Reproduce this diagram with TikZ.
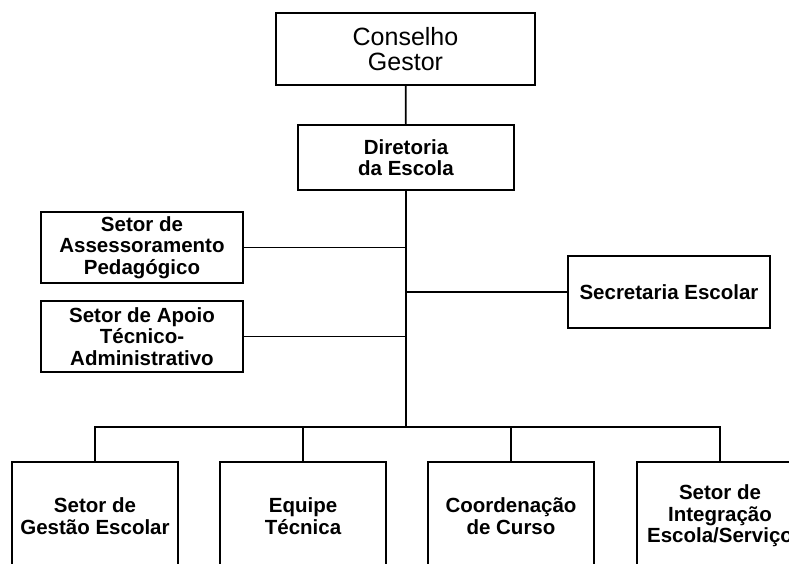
\documentclass[tikz,border=0pt]{standalone}
\usepackage{fontspec}
\setmainfont{Liberation Sans}

\begin{document}
\begin{tikzpicture}[x=1pt,y=-1pt,line cap=round]
  \tikzset{
    unit/.style={draw,line width=1.7pt,align=center,inner sep=0pt,
      font=\fontsize{20.5}{21.5}\selectfont\bfseries},
    head/.style={unit,font=\fontsize{25}{24.5}\selectfont},
    side/.style={unit,minimum width=202pt,minimum height=71pt},
    base/.style={unit,minimum width=166pt,minimum height=108pt},
    link/.style={line width=1.7pt}
  }
  \useasboundingbox (0,0) rectangle (789,564);
  \clip (0,0) rectangle (789,564);

  % Top of the chart
  \node[head,minimum width=259pt,minimum height=72pt] (cons) at (405.5,49) {Conselho\\Gestor};
  \node[unit,minimum width=216pt,minimum height=65pt] (dir) at (406,157.5) {Diretoria\\da Escola};

  % Staff sectors on the sides
  \node[side] (asses) at (142,247.5) {Setor de\\Assessoramento\\Pedagógico};
  \node[side] (apoio) at (142,336.5) {Setor de Apoio\\Técnico-\\Administrativo};
  \node[side,minimum height=72pt] (secr) at (669,292) {Secretaria Escolar};

  % Bottom row (cut by the page edge)
  \node[base] (gest) at (95,516) {Setor de\\Gestão Escolar};
  \node[base] (equip) at (303,516) {Equipe\\Técnica};
  \node[base] (curso) at (511,516) {Coordenação\\de Curso};
  \node[base] (integ) at (720,516) {Setor de\\Integração\\Escola/Serviço};

  \coordinate (bus) at (406,427);

  % Connectors
  \draw[link] (cons) -- (dir);
  \draw[link] (dir.south) -- (bus);
  \draw[link] (asses.east) -- (asses.east -| bus);
  \draw[link] (apoio.east) -- (apoio.east -| bus);
  \draw[link] (secr.west) -- (secr.west -| bus);
  \draw[link] (gest.north) |- (bus) -| (integ.north);
  \draw[link] (equip.north) -- (equip.north |- bus);
  \draw[link] (curso.north) -- (curso.north |- bus);
\end{tikzpicture}
\end{document}
